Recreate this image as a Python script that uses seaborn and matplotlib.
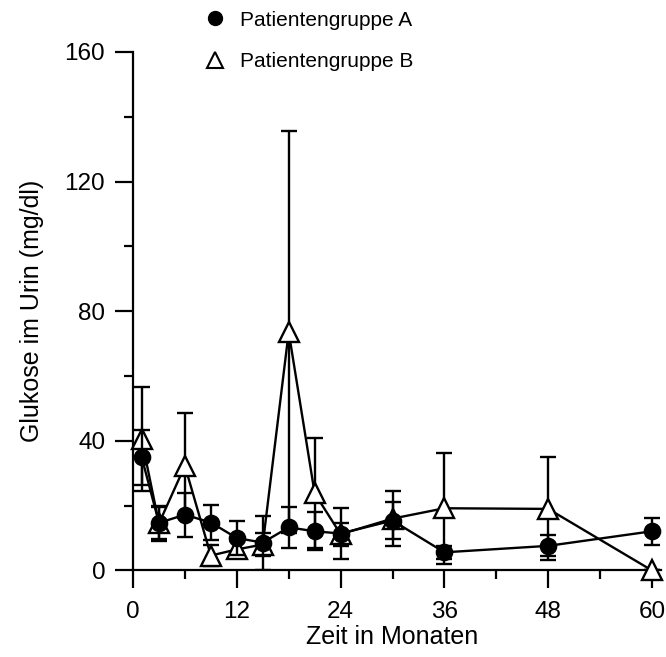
import matplotlib
matplotlib.use('Agg')
import matplotlib.pyplot as plt
import seaborn as sns
from matplotlib.lines import Line2D
from matplotlib.ticker import MultipleLocator

# Zeitpunkte (Monate)
months = [1, 3, 6, 9, 12, 15, 18, 21, 24, 30, 36, 48, 60]

# Patientengruppe A: Mittelwert und Fehler
a_mean = [35, 14.7, 17.2, 14.8, 10, 8.6, 13.3, 12.1, 11.4, 15.4, 5.6, 7.6, 12.1]
a_err = [8.5, 5, 6.8, 5.5, 5.2, 8.3, 6.3, 5.8, 8, 5.6, 2, 3.2, 4.1]

# Patientengruppe B
b_mean = [40.5, 14.5, 32.3, 4.6, 6.5, 8, 73.6, 23.8, 11.2, 16, 19.2, 19, 0]
b_err = [16, 5.5, 16.2, 3.2, 2.5, 3.5, 62.1, 17, 3.5, 8.6, 17.2, 15.9, 0]

labels = ['Patientengruppe A', 'Patientengruppe B']

sns.set_style('ticks')
plt.rcParams['font.family'] = ['Liberation Sans', 'DejaVu Sans']
plt.rcParams.update({'text.color': 'black', 'axes.labelcolor': 'black',
                     'xtick.color': 'black', 'ytick.color': 'black',
                     'axes.edgecolor': 'black'})

fig = plt.figure(figsize=(6.66, 6.57), dpi=100)
ax = fig.add_axes([0.1997, 0.1317, 0.7923, 0.7892])

lw = 1.7

# Gruppe B (unten)
ax.errorbar(months, b_mean, yerr=b_err, fmt='none', ecolor='black',
            elinewidth=lw, capsize=6, capthick=lw, zorder=2)
sns.lineplot(x=months, y=b_mean, ax=ax, color='black', linewidth=lw,
             marker='^', markersize=14, markerfacecolor='white',
             markeredgecolor='black', markeredgewidth=lw, zorder=3,
             clip_on=False)

# Gruppe A (oben)
ax.errorbar(months, a_mean, yerr=a_err, fmt='none', ecolor='black',
            elinewidth=lw, capsize=6, capthick=lw, zorder=4)
sns.lineplot(x=months, y=a_mean, ax=ax, color='black', linewidth=lw,
             marker='o', markersize=11, markerfacecolor='black',
             markeredgecolor='black', markeredgewidth=lw, zorder=5,
             clip_on=False)

ax.set_xlim(0, 61)
ax.set_ylim(0, 160)
ax.spines['top'].set_visible(False)
ax.spines['right'].set_visible(False)
for s in ['left', 'bottom']:
    ax.spines[s].set_linewidth(1.6)

ax.xaxis.set_major_locator(MultipleLocator(12))
ax.xaxis.set_minor_locator(MultipleLocator(6))
ax.yaxis.set_major_locator(MultipleLocator(40))
ax.yaxis.set_minor_locator(MultipleLocator(20))
ax.tick_params(which='major', length=13, width=1.6, labelsize=17.5)
ax.tick_params(which='minor', length=6.5, width=1.6)
ax.tick_params(axis='x', which='major', pad=9)
ax.tick_params(axis='y', which='major', pad=7)

ax.set_xlabel('Zeit in Monaten', fontsize=18)
ax.set_ylabel('Glukose im Urin (mg/dl)', fontsize=18)
ax.xaxis.set_label_coords(30 / 61, -0.105)
ax.yaxis.set_label_coords(-0.169, 0.5)

handles = [
    Line2D([], [], linestyle='none', marker='o', markersize=10,
           markerfacecolor='black', markeredgecolor='black'),
    Line2D([], [], linestyle='none', marker='^', markersize=12,
           markerfacecolor='white', markeredgecolor='black', markeredgewidth=1.5),
]
fig.legend(handles, labels, loc='upper left', bbox_to_anchor=(0.307, 0.984),
           frameon=False, fontsize=15, handlelength=1.0, handletextpad=0.7,
           labelspacing=1.1, borderpad=0, borderaxespad=0)

fig.savefig('out.png', dpi=100)
